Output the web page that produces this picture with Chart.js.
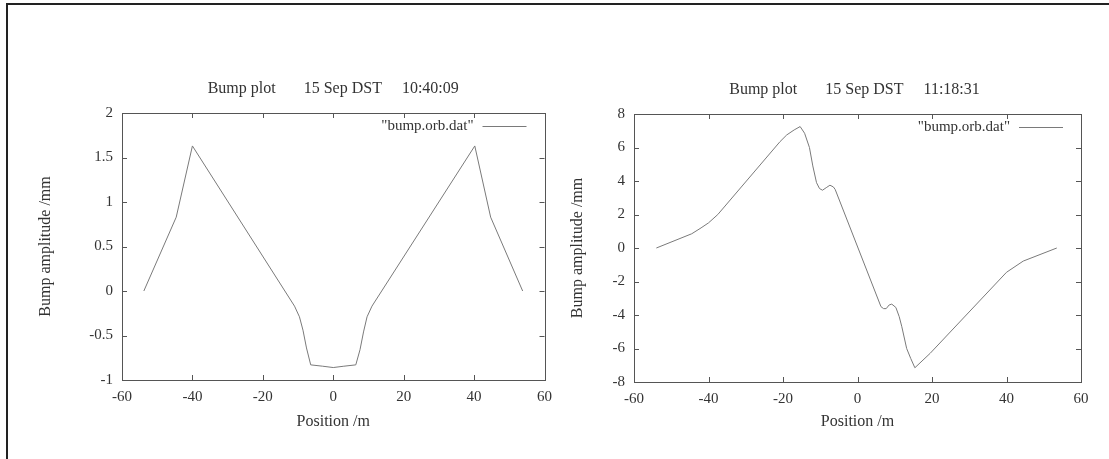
<!DOCTYPE html>
<html>
<head>
<meta charset="utf-8">
<script src="https://cdn.jsdelivr.net/npm/chart.js@4.4.0/dist/chart.umd.min.js"></script>
<style>
  html, body { margin: 0; padding: 0; background: #fff; }
  #page { position: relative; width: 1109px; height: 459px; overflow: hidden; background: #fff; }
  #topline { position: absolute; left: 6px; top: 3px; width: 1103px; height: 2px; background: #222; }
  #leftline { position: absolute; left: 6px; top: 3px; width: 2px; height: 456px; background: #222; }
  canvas { position: absolute; top: 0; }
  #c1 { left: 0px; }
  #c2 { left: 540px; }
</style>
</head>
<body>
<div id="page">
  <div id="topline"></div>
  <div id="leftline"></div>
  <canvas id="c1" width="560" height="459"></canvas>
  <canvas id="c2" width="569" height="459"></canvas>
</div>
<script>
// ---------- data ----------
const seriesLabel = '"bump.orb.dat"';
const leftTitle = 'Bump plot       15 Sep DST     10:40:09';
const rightTitle = 'Bump plot       15 Sep DST     11:18:31';
const xAxisTitle = 'Position /m';
const yAxisTitle = 'Bump amplitude /mm';

const xTickValues = [-60, -40, -20, 0, 20, 40, 60];
const xTickLabels = ['-60', '-40', '-20', '0', '20', '40', '60'];
const leftYTickValues = [-1, -0.5, 0, 0.5, 1, 1.5, 2];
const leftYTickLabels = ['-1', '-0.5', '0', '0.5', '1', '1.5', '2'];
const rightYTickValues = [-8, -6, -4, -2, 0, 2, 4, 6, 8];
const rightYTickLabels = ['-8', '-6', '-4', '-2', '0', '2', '4', '6', '8'];

const leftX = [-53.8, -44.6, -40, -11, -9.6, -8.6, -7.6, -6.4, -3, 0, 3, 6.4, 7.6, 8.6, 9.6, 11, 40.2, 44.7, 53.8];
const leftY = [0, 0.83, 1.63, -0.17, -0.29, -0.44, -0.64, -0.83, -0.845, -0.86, -0.845, -0.83, -0.66, -0.46, -0.29, -0.17, 1.63, 0.83, 0];

const rightX = [-54, -44.5, -42, -40, -37.5, -20.8, -19, -17, -15.4, -14.2, -12.9, -12, -11, -10.2, -9.4, -8.4, -7.4, -6.5, -6, 6.3, 7, 7.7, 8.5, 9.2, 10.3, 11.2, 11.9, 13.2, 14.3, 15.4, 19.5, 40, 44.5, 53.5];
const rightY = [0, 0.85, 1.2, 1.5, 2.0, 6.35, 6.75, 7.05, 7.25, 6.85, 6.0, 4.9, 3.9, 3.55, 3.45, 3.6, 3.75, 3.65, 3.5, -3.5, -3.62, -3.62, -3.4, -3.35, -3.55, -4.1, -4.7, -6.0, -6.6, -7.15, -6.29, -1.45, -0.78, 0];

// ---------- styling ----------
const TEXT = '#333';
const FRAME = '#555';
const CURVE = '#7a7a7a';
const FONT_FAMILY = '"Liberation Serif", "DejaVu Serif", serif';
const TICK_LEN = 5;

Chart.defaults.font.family = FONT_FAMILY;
Chart.defaults.color = TEXT;

const gnuplotFrame = {
  id: 'gnuplotFrame',
  afterDatasetsDraw(chart, args, opts) {
    const { ctx, chartArea: a, scales } = chart;
    const x = scales.x, y = scales.y;
    ctx.save();
    ctx.strokeStyle = FRAME;
    ctx.lineWidth = 1;
    ctx.strokeRect(Math.round(a.left) + 0.5, Math.round(a.top) + 0.5,
                   Math.round(a.right - a.left), Math.round(a.bottom - a.top));
    ctx.beginPath();
    x.ticks.forEach(t => {
      const px = Math.round(x.getPixelForValue(t.value)) + 0.5;
      ctx.moveTo(px, a.bottom); ctx.lineTo(px, a.bottom - TICK_LEN);
      ctx.moveTo(px, a.top); ctx.lineTo(px, a.top + TICK_LEN);
    });
    y.ticks.forEach(t => {
      const py = Math.round(y.getPixelForValue(t.value)) + 0.5;
      ctx.moveTo(a.left, py); ctx.lineTo(a.left + TICK_LEN, py);
      ctx.moveTo(a.right, py); ctx.lineTo(a.right - TICK_LEN, py);
    });
    ctx.stroke();

    // title
    ctx.fillStyle = TEXT;
    ctx.font = '16px ' + FONT_FAMILY;
    ctx.textAlign = 'center';
    ctx.textBaseline = 'middle';
    ctx.fillText(opts.title, (a.left + a.right) / 2 + (opts.titleShift || 0), a.top - 24);

    // key (legend) inside top-right
    const ds = chart.data.datasets[0];
    ctx.font = '15px ' + FONT_FAMILY;
    ctx.textAlign = 'right';
    const ly = a.top + 13;
    ctx.fillText(ds.label, a.right - 71, ly);
    ctx.beginPath();
    ctx.strokeStyle = ds.borderColor;
    ctx.lineWidth = 1;
    ctx.moveTo(a.right - 62, Math.round(ly) + 0.5);
    ctx.lineTo(a.right - 18, Math.round(ly) + 0.5);
    ctx.stroke();
    ctx.restore();
  }
};

function makeChart(canvasId, xs, ys, yVals, yLabels, yMin, yMax, cfg) {
  const points = xs.map((v, i) => ({ x: v, y: ys[i] }));
  return new Chart(document.getElementById(canvasId), {
    type: 'scatter',
    data: {
      datasets: [{
        label: seriesLabel,
        data: points,
        showLine: true,
        borderColor: CURVE,
        borderWidth: 1,
        pointRadius: 0,
        tension: 0
      }]
    },
    options: {
      responsive: false,
      animation: false,
      devicePixelRatio: 1,
      layout: { padding: cfg.padding },
      plugins: {
        legend: { display: false },
        tooltip: { enabled: false },
        gnuplotFrame: { title: cfg.title, titleShift: cfg.titleShift }
      },
      scales: {
        x: {
          type: 'linear',
          min: -60, max: 60,
          afterBuildTicks: s => { s.ticks = xTickValues.map(v => ({ value: v })); },
          afterFit: s => { s.height = 60; },
          grid: { display: false, drawTicks: false },
          border: { display: false },
          ticks: {
            padding: 8,
            font: { size: 15 },
            color: TEXT,
            maxRotation: 0,
            callback: (v, i) => xTickLabels[i]
          },
          title: {
            display: true,
            text: xAxisTitle,
            font: { size: 16 },
            color: TEXT,
            padding: { top: 0, bottom: cfg.xTitlePad }
          }
        },
        y: {
          type: 'linear',
          min: yMin, max: yMax,
          afterBuildTicks: s => { s.ticks = yVals.map(v => ({ value: v })); },
          afterFit: s => { s.width = cfg.yWidth; },
          grid: { display: false, drawTicks: false },
          border: { display: false },
          ticks: {
            padding: 9,
            font: { size: 15 },
            color: TEXT,
            callback: (v, i) => yLabels[i]
          },
          title: {
            display: true,
            text: yAxisTitle,
            font: { size: 16 },
            color: TEXT,
            padding: { top: 4, bottom: 0 }
          }
        }
      }
    },
    plugins: [gnuplotFrame]
  });
}

makeChart('c1', leftX, leftY, leftYTickValues, leftYTickLabels, -1, 2, {
  padding: { left: 32, right: 11, top: 113, bottom: 19 },
  yWidth: 90,
  xTitlePad: 9,
  title: leftTitle,
  titleShift: 0
});

makeChart('c2', rightX, rightY, rightYTickValues, rightYTickLabels, -8, 8, {
  padding: { left: 24, right: 28, top: 114, bottom: 17 },
  yWidth: 70,
  xTitlePad: 11,
  title: rightTitle,
  titleShift: -3
});
</script>
</body>
</html>
